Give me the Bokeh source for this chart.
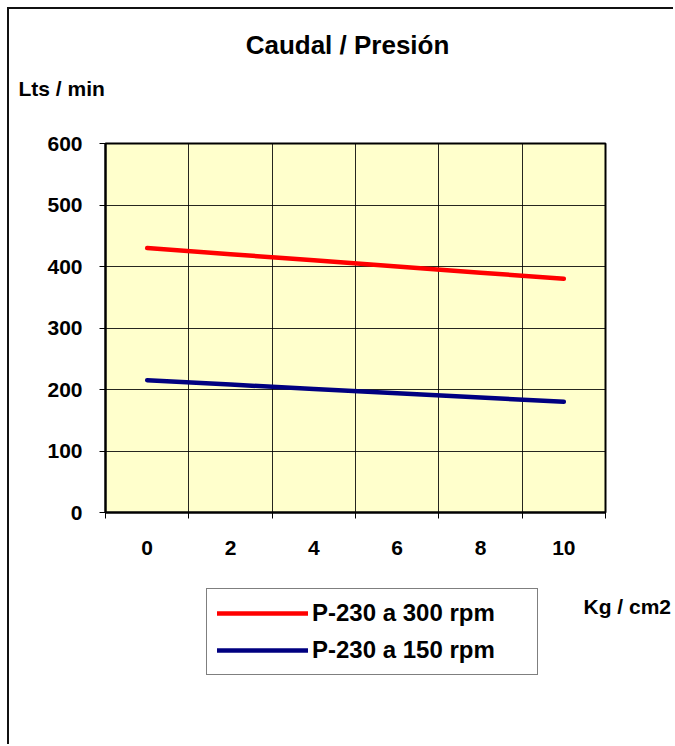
from bokeh.plotting import figure
from bokeh.layouts import column
from bokeh.models import FixedTicker, Legend, LegendItem, Range1d, Label
from bokeh.embed import file_html
from bokeh.resources import INLINE

# ---- data ----
pressure = [0, 2, 4, 6, 8, 10]                  # Kg / cm2
flow_300 = [430, 420, 410, 400, 390, 380]       # Lts / min, P-230 a 300 rpm
flow_150 = [215, 208, 201, 194, 187, 180]       # Lts / min, P-230 a 150 rpm
series_names = ["P-230 a 300 rpm", "P-230 a 150 rpm"]
series_colors = ["#FF0000", "#000080"]
y_ticks = [0, 100, 200, 300, 400, 500, 600]
title_text = "Caudal / Presión"
y_title = "Lts / min"
x_title = "Kg / cm2"

FONT = "Liberation Sans"
W = 664


def blank(height, x_range=None, y_range=None):
    f = figure(width=W, height=height, output_backend="svg", toolbar_location=None,
               x_axis_location=None, y_axis_location=None, title=None,
               x_range=x_range or Range1d(0, 1), y_range=y_range or Range1d(0, 1),
               min_border=0, min_border_left=0, min_border_right=0,
               min_border_top=0, min_border_bottom=0)
    f.outline_line_color = None
    f.background_fill_color = "white"
    f.border_fill_color = "white"
    f.grid.visible = False
    try:
        f.frame_align = False
    except AttributeError:
        pass
    return f


def txt(text, x, y, size, align):
    return Label(x=x, y=y, x_units="screen", y_units="screen", text=text,
                 text_font=FONT, text_font_style="bold", text_font_size=size,
                 text_align=align, text_baseline="middle", text_color="black")


# ---- header: title and y-axis title ----
head = blank(122)
head.add_layout(txt(title_text, 338, 87, "26px", "center"))
head.add_layout(txt(y_title, 9, 43, "21px", "left"))

# ---- main chart ----
p = figure(frame_width=500, frame_height=369, output_backend="svg", toolbar_location=None,
           x_range=Range1d(-1, 11), y_range=Range1d(0, 600), title=None,
           min_border_left=96, min_border_top=12, min_border_right=68,
           min_border_bottom=60)
p.background_fill_color = "#FFFFCC"
p.border_fill_color = "white"
p.outline_line_color = "black"
p.outline_line_width = 2

xa = p.xaxis[0]
xa.ticker = FixedTicker(ticks=pressure, minor_ticks=[-1, 1, 3, 5, 7, 9, 11])
xa.major_tick_out = 0
xa.major_tick_in = 0
xa.minor_tick_out = 6
xa.minor_tick_in = 0
xa.minor_tick_line_color = "black"
xa.axis_line_color = "black"
xa.axis_line_width = 2
xa.major_label_text_font = FONT
xa.major_label_text_font_style = "bold"
xa.major_label_text_font_size = "21px"
xa.major_label_text_color = "black"
xa.major_label_standoff = 22

ya = p.yaxis[0]
ya.ticker = FixedTicker(ticks=y_ticks)
ya.major_tick_out = 6
ya.major_tick_in = 0
ya.minor_tick_out = 0
ya.minor_tick_in = 0
ya.major_tick_line_color = "black"
ya.axis_line_color = "black"
ya.axis_line_width = 2
ya.major_label_text_font = FONT
ya.major_label_text_font_style = "bold"
ya.major_label_text_font_size = "21px"
ya.major_label_text_color = "black"
ya.major_label_standoff = 17

p.xgrid.ticker = FixedTicker(ticks=[1, 3, 5, 7, 9])
p.ygrid.ticker = FixedTicker(ticks=y_ticks[1:-1])
for g in (p.xgrid[0], p.ygrid[0]):
    g.grid_line_color = "black"
    g.grid_line_alpha = 0.85
    g.grid_line_width = 1

p.line(pressure, flow_300, line_color=series_colors[0], line_width=4.5, line_cap="round")
p.line(pressure, flow_150, line_color=series_colors[1], line_width=4.5, line_cap="round")

# ---- footer: legend and x-axis title ----
foot = blank(172, x_range=Range1d(100, 101), y_range=Range1d(0, 1))
k1 = foot.line(pressure, flow_300, line_color=series_colors[0], line_width=4.5, line_cap="round")
k2 = foot.line(pressure, flow_150, line_color=series_colors[1], line_width=4.5, line_cap="round")
legend = Legend(items=[LegendItem(label=series_names[0], renderers=[k1]),
                       LegendItem(label=series_names[1], renderers=[k2])],
                location=(197, 69), orientation="vertical",
                label_text_font=FONT, label_text_font_style="bold",
                label_text_font_size="24px", label_text_color="black",
                glyph_width=91, glyph_height=24, label_height=24, label_width=215,
                label_standoff=4, padding=10, spacing=9, margin=0,
                border_line_color="black", border_line_width=1,
                background_fill_color="white", background_fill_alpha=1)
foot.add_layout(legend, "center")
foot.add_layout(txt(x_title, 574, 138, "21px", "left"))

layout = column(head, p, foot, spacing=0)
layout.styles = {"border-left": "2px solid #111", "border-top": "2px solid #111",
                 "margin-left": "7px", "margin-top": "7px"}

open("out.html", "w").write(file_html(layout, INLINE))
